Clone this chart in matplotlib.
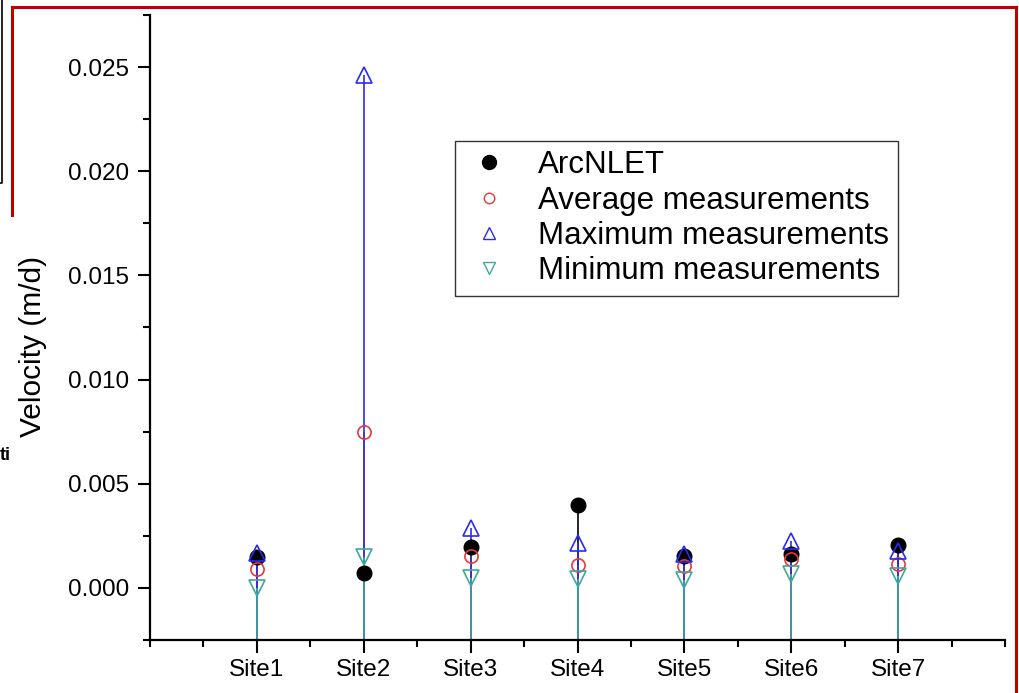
import matplotlib
matplotlib.use("Agg")
import matplotlib.pyplot as plt
from matplotlib.lines import Line2D
from matplotlib.ticker import MultipleLocator, FixedLocator, FormatStrFormatter

plt.rcParams['font.family'] = ['Liberation Sans', 'DejaVu Sans']

# velocidades por sitio (m/d)
sites = ['Site1', 'Site2', 'Site3', 'Site4', 'Site5', 'Site6', 'Site7']
arcnlet = [0.00150, 0.00073, 0.00198, 0.00398, 0.00154, 0.00163, 0.00206]
avg_meas = [0.00091, 0.00749, 0.00154, 0.00110, 0.00106, 0.00139, 0.00115]
max_meas = [0.00168, 0.02462, 0.00288, 0.00216, 0.00163, 0.00227, 0.00179]
min_meas = [0.00000, 0.00149, 0.00048, 0.00043, 0.00038, 0.00067, 0.00058]

BLUE = '#2b2bf0'
RED = '#e8383a'
TEAL = '#3fa79e'

x = list(range(1, len(sites) + 1))
ybot = -0.0025

fig = plt.figure(figsize=(10.19, 6.93), dpi=100)
ax = fig.add_axes([150/1019, 1 - 640/693, 855/1019, 625/693])

# lineas verticales desde el eje
for vals, c in [(arcnlet, 'black'), (avg_meas, RED), (max_meas, BLUE), (min_meas, TEAL)]:
    ax.vlines(x, ybot, vals, colors=c, linewidth=1.2, zorder=2)

ax.plot(x, arcnlet, 'o', color='black', markersize=10.5, zorder=3)
ax.plot(x, avg_meas, 'o', mfc='none', mec=RED, mew=1.2, markersize=9.5, zorder=4)
ax.plot(x, max_meas, '^', mfc='none', mec=BLUE, mew=1.2, markersize=11, zorder=4)
ax.plot(x, min_meas, 'v', mfc='none', mec=TEAL, mew=1.2, markersize=11, zorder=4)

ax.set_xlim(0, 8)
ax.set_ylim(ybot, 0.0275)
ax.set_xticks(x)
ax.set_xticklabels(sites)
ax.xaxis.set_minor_locator(FixedLocator([0, 0.5, 1.5, 2.5, 3.5, 4.5, 5.5, 6.5, 7.5, 8]))
ax.yaxis.set_major_locator(FixedLocator([0, 0.005, 0.010, 0.015, 0.020, 0.025]))
ax.yaxis.set_major_formatter(FormatStrFormatter('%.3f'))
ax.yaxis.set_minor_locator(MultipleLocator(0.0025))

for s in ['top', 'right']:
    ax.spines[s].set_visible(False)
for s in ['left', 'bottom']:
    ax.spines[s].set_linewidth(1.6)

ax.tick_params(which='major', length=9, width=1.5, labelsize=17.5, direction='out')
ax.tick_params(which='minor', length=5, width=1.5, direction='out')
ax.tick_params(axis='y', pad=6)
ax.tick_params(axis='x', pad=5)
ax.set_ylabel('Velocity (m/d)', fontsize=21.5)
ax.yaxis.set_label_coords(-0.120, 0.469)

handles = [
    Line2D([], [], ls='none', marker='o', color='black', markersize=10),
    Line2D([], [], ls='none', marker='o', mfc='none', mec=RED, mew=1.0, markersize=7.5),
    Line2D([], [], ls='none', marker='^', mfc='none', mec=BLUE, mew=1.0, markersize=9),
    Line2D([], [], ls='none', marker='v', mfc='none', mec=TEAL, mew=1.0, markersize=9),
]
labels = ['ArcNLET', 'Average measurements', 'Maximum measurements', 'Minimum measurements']
leg = ax.legend(handles, labels, loc='upper left', bbox_to_anchor=(455/1019, 1 - 141/693),
                bbox_transform=fig.transFigure, borderaxespad=0, fontsize=22.5,
                frameon=True, fancybox=False, edgecolor='black', borderpad=0.3,
                handlelength=1.6, handletextpad=0.75, labelspacing=0.17)
leg.get_frame().set_linewidth(1.0)

# marcos de la pagina
fig.add_artist(Line2D([12/1019, 1016/1019], [1 - 7/693, 1 - 7/693], color='#c00000', lw=2.2))
fig.add_artist(Line2D([12/1019, 12/1019], [1 - 7/693, 1 - 215/693], color='#c00000', lw=2.2))
fig.add_artist(Line2D([1016/1019, 1016/1019], [1 - 7/693, 0], color='#c00000', lw=2.2))
fig.add_artist(Line2D([2/1019, 2/1019, 0], [1, 1 - 183/693, 1 - 183/693], color='black', lw=1.2))
fig.text(11/1019, 1 - 455/693, 'ti', fontsize=13, fontweight='bold', ha='right', va='center')

fig.savefig('out.png', dpi=100)
